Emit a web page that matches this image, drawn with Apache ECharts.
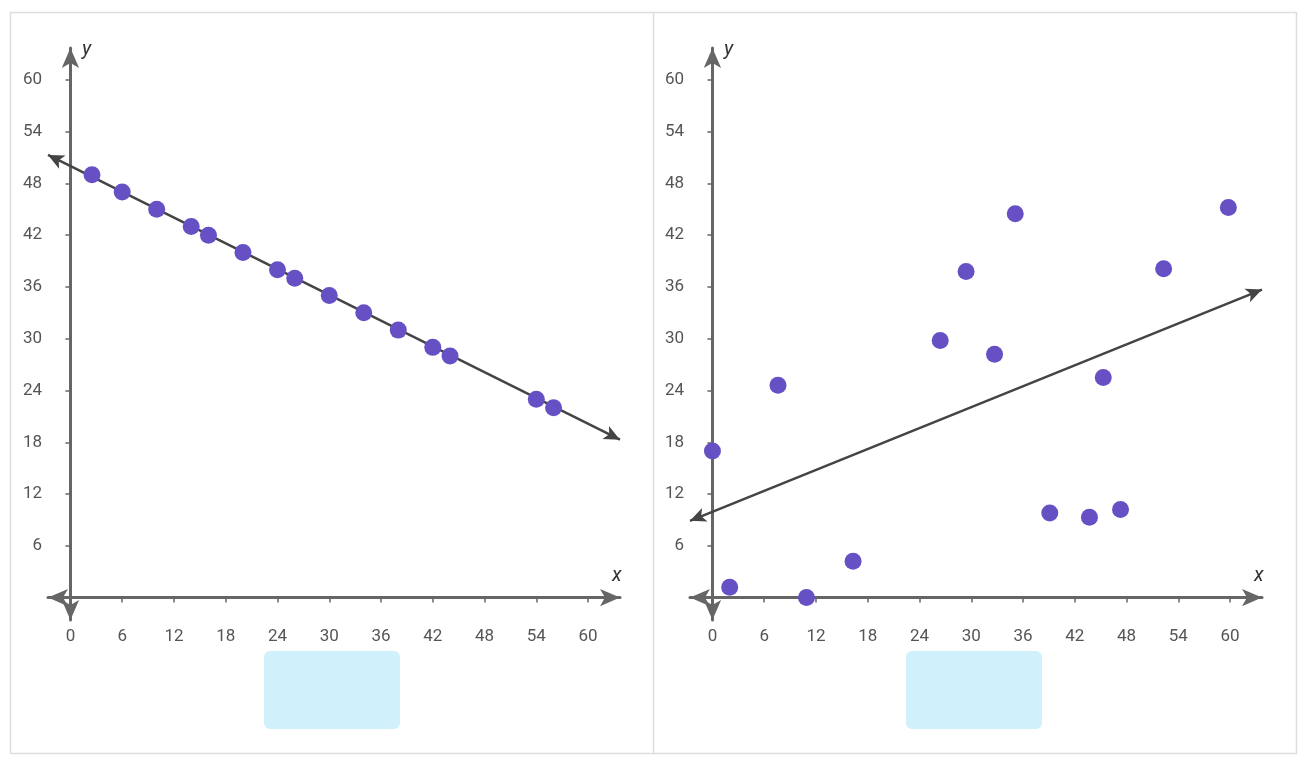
<!DOCTYPE html><html><head><meta charset="utf-8"><script src="https://cdn.jsdelivr.net/npm/echarts@6/dist/echarts.min.js"></script>
<style>body{margin:0;background:#fff}#c{width:1304px;height:766px}</style></head><body><div id="c"></div><script>
const ticks=[0,6,12,18,24,30,36,42,48,54,60];
const leftPoints=[[2.5,49],[6,47],[10,45],[14,43],[16,42],[20,40],[24,38],[26,37],[30,35],[34,33],[38,31],[42,29],[44,28],[54,23],[56,22]];
const leftLine=[[-2.6,51.3],[63.7,18.3]];
const rightPoints=[[0,17],[2,1.2],[7.6,24.6],[10.9,0],[16.3,4.2],[26.4,29.8],[29.4,37.8],[32.7,28.2],[35.1,44.5],[39.1,9.8],[43.7,9.3],[45.3,25.5],[47.3,10.2],[52.3,38.1],[59.8,45.2]];
const rightLine=[[-2.6,8.9],[63.7,35.7]];
const ax='#666',txt='#555',dot='#6650c4';
function xa(g){return{gridIndex:g,type:'value',min:-2.6,max:63.7,splitLine:{show:false},
 axisLine:{onZero:true,symbol:['arrow','arrow'],symbolSize:[13,20],lineStyle:{color:ax,width:3}},
 axisTick:{customValues:ticks,length:5,inside:false,lineStyle:{color:ax,width:1.5}},
 axisLabel:{customValues:ticks,color:txt,fontSize:17,fontFamily:'Roboto',margin:8}};}
function ya(g){return{gridIndex:g,type:'value',min:-2.6,max:63.7,splitLine:{show:false},
 axisLine:{onZero:true,symbol:['arrow','arrow'],symbolSize:[13,20],lineStyle:{color:ax,width:3}},
 axisTick:{customValues:ticks.slice(1),length:5,lineStyle:{color:ax,width:1.5}},
 axisLabel:{customValues:ticks.slice(1),color:txt,fontSize:17,fontFamily:'Roboto',margin:6}};}
function ml(l){return{silent:true,symbol:['arrow','arrow'],symbolSize:[11,16],label:{show:false},lineStyle:{color:'#444',width:2.5,type:'solid'},data:[[{coord:l[0]},{coord:l[1]}]]};}
const chart=echarts.init(document.getElementById('c'));
chart.setOption({animation:false,
 grid:[{left:48,top:48,width:572,height:572},{left:690,top:48,width:572,height:572}],
 xAxis:[xa(0),xa(1)],yAxis:[ya(0),ya(1)],
 series:[
  {type:'scatter',xAxisIndex:0,yAxisIndex:0,data:leftPoints,symbolSize:17,itemStyle:{color:dot,opacity:1},markLine:ml(leftLine),z:5},
  {type:'scatter',xAxisIndex:1,yAxisIndex:1,data:rightPoints,symbolSize:17,itemStyle:{color:dot,opacity:1},markLine:ml(rightLine),z:5}],
 graphic:[
  {type:'rect',shape:{x:10.5,y:12.5,width:1286,height:741},style:{fill:'none',stroke:'#ddd',lineWidth:1.5},z:-10},
  {type:'line',shape:{x1:653.5,y1:12,x2:653.5,y2:753},style:{stroke:'#ddd',lineWidth:1.5}},
  {type:'rect',shape:{x:264,y:651,width:136,height:78,r:6},style:{fill:'#d0f1fc'}},
  {type:'rect',shape:{x:906,y:651,width:136,height:78,r:6},style:{fill:'#d0f1fc'}},
  {type:'text',x:82,y:40,style:{text:'y',font:'italic 20px Roboto',fill:'#333'}},
  {type:'text',x:612,y:566,style:{text:'x',font:'italic 20px Roboto',fill:'#333'}},
  {type:'text',x:724,y:40,style:{text:'y',font:'italic 20px Roboto',fill:'#333'}},
  {type:'text',x:1254,y:566,style:{text:'x',font:'italic 20px Roboto',fill:'#333'}}
 ]});
</script></body></html>
